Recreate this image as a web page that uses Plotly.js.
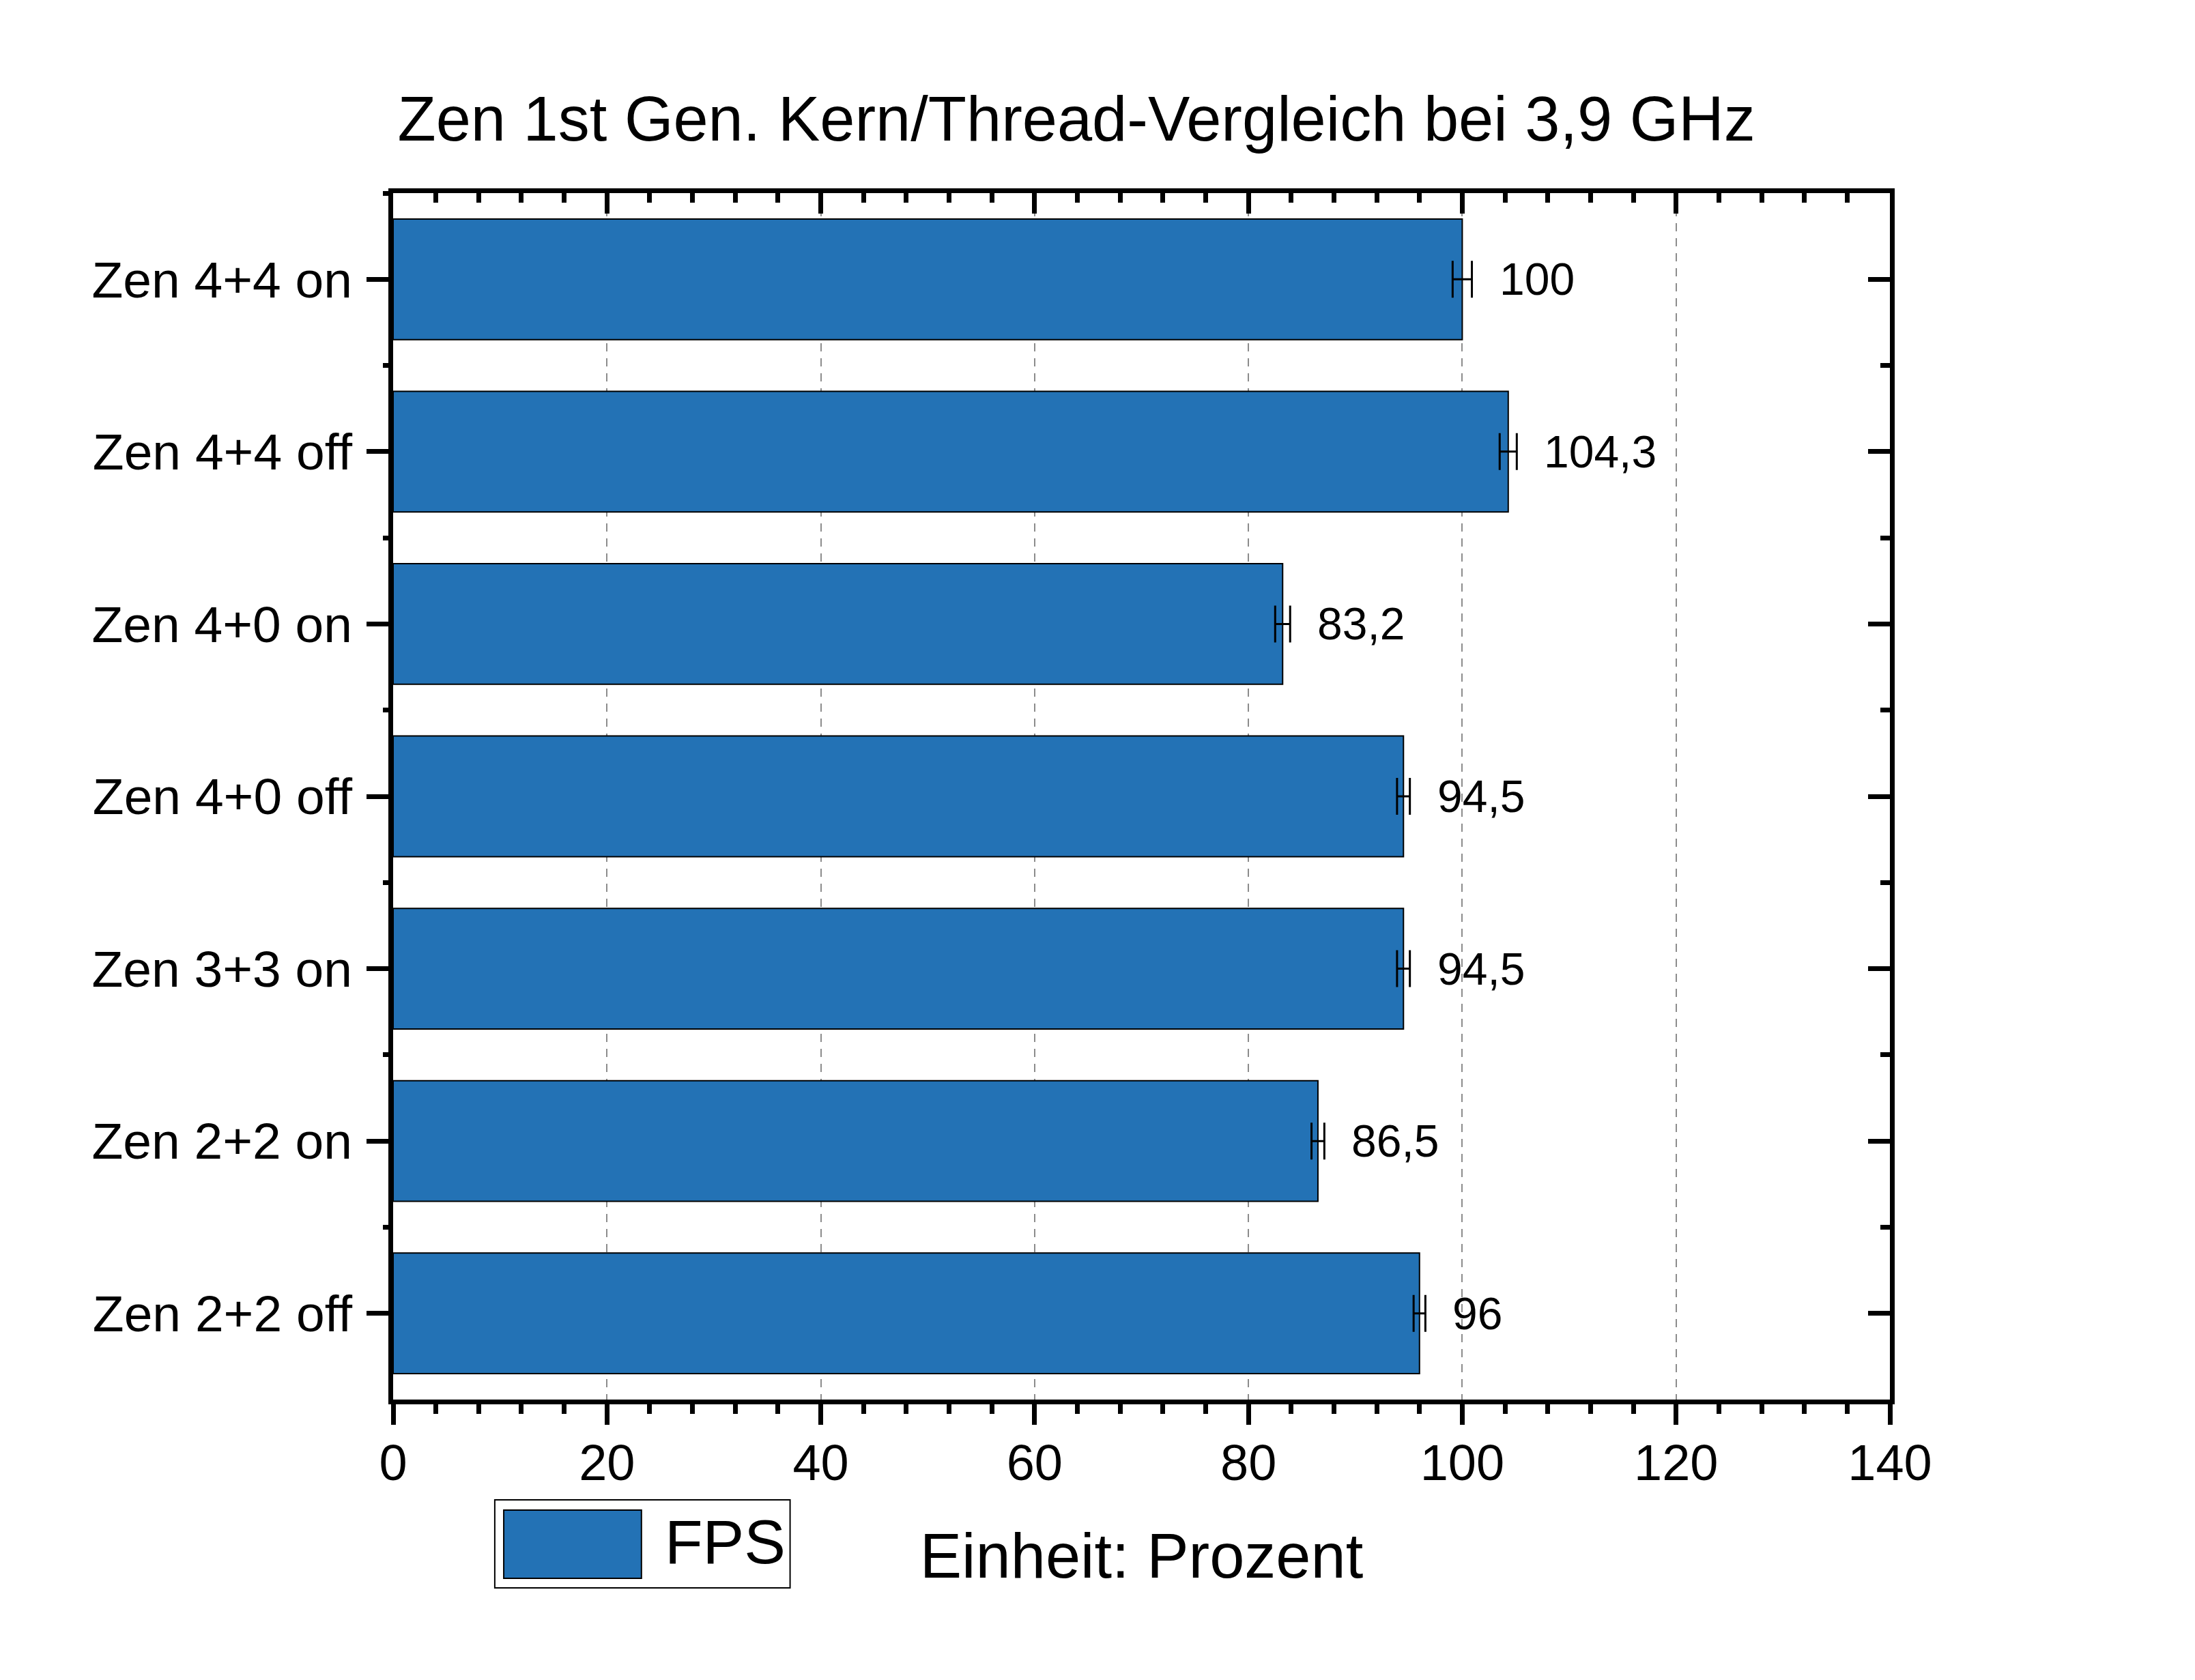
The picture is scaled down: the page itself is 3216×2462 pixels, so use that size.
<!DOCTYPE html>
<html>
<head>
<meta charset="utf-8">
<script src="https://cdn.plot.ly/plotly-3.0.1.min.js"></script>
<style>
  html, body { margin: 0; padding: 0; background: #fff; }
  #chart { width: 3216px; height: 2462px; }
</style>
</head>
<body>
<div id="chart"></div>
<script>
// --- data ---
const categories = ['Zen 4+4 on', 'Zen 4+4 off', 'Zen 4+0 on', 'Zen 4+0 off',
                    'Zen 3+3 on', 'Zen 2+2 on', 'Zen 2+2 off'];
const fps = [100, 104.3, 83.2, 94.5, 94.5, 86.5, 96];
const fpsErr = [0.9, 0.8, 0.7, 0.6, 0.6, 0.6, 0.55];
const seriesName = 'FPS';
const chartTitle = 'Zen 1st Gen. Kern/Thread-Vergleich bei 3,9 GHz';
const xTitle = 'Einheit: Prozent';

const barColor = '#2372b5';
const font = 'Liberation Sans, Arial, sans-serif';

// --- traces ---
const traces = [{
    type: 'bar',
    orientation: 'h',
    x: fps,
    y: categories,
    width: 0.7,
    name: seriesName,
    marker: { color: barColor, line: { color: 'black', width: 2 } },
    error_x: { type: 'data', array: fpsErr, visible: true, color: 'black', thickness: 3, width: 27 },
    showlegend: false,
    hoverinfo: 'x+y'
}];

// invisible copies so the frame axes (top / right / boundary ticks) get drawn
[['x2', 'y'], ['x', 'y2'], ['x', 'y3'], ['x', 'y4']].forEach(([xa, ya]) => {
    traces.push({
        type: 'scatter', mode: 'markers',
        x: fps, y: categories,
        xaxis: xa, yaxis: ya,
        marker: { opacity: 0 },
        hoverinfo: 'skip', showlegend: false
    });
});

// value labels right of the error bars, German decimal comma
const annotations = categories.map((c, i) => ({
    x: fps[i] + fpsErr[i],
    y: c,
    xref: 'x', yref: 'y',
    text: String(fps[i]).replace('.', ','),
    showarrow: false,
    xanchor: 'left',
    xshift: 38,
    font: { family: font, size: 66, color: 'black' }
}));

// hand-made legend (big swatch like the original)
annotations.push({
    x: 0.1805, y: -0.1182, xref: 'paper', yref: 'paper',
    text: seriesName, showarrow: false, xanchor: 'left', yanchor: 'middle',
    font: { family: font, size: 91, color: 'black' }
});

const shapes = [
    { type: 'rect', xref: 'paper', yref: 'paper', x0: 0.0679, x1: 0.2652, y0: -0.0831, y1: -0.1561,
      line: { color: 'black', width: 2 }, fillcolor: 'white' },
    { type: 'rect', xref: 'paper', yref: 'paper', x0: 0.0739, x1: 0.1659, y0: -0.0916, y1: -0.1482,
      line: { color: 'black', width: 2 }, fillcolor: barColor }
];

const LW = 7;
const TW = 7;
const axLine = { showline: true, linecolor: 'black', linewidth: LW, zeroline: false };
const yRange = [categories.length - 0.5, -0.5];
const catAxis = { type: 'category', categoryorder: 'array', categoryarray: categories, range: yRange };

const layout = {
    width: 3216,
    height: 2462,
    margin: { l: 576, r: 447, t: 283, b: 411 },
    paper_bgcolor: 'white',
    plot_bgcolor: 'white',
    font: { family: font, color: 'black' },
    showlegend: false,
    title: {
        text: chartTitle,
        font: { family: font, size: 92, color: 'black' },
        x: 0.4904, xanchor: 'center',
        y: 0.9293, yanchor: 'middle', yref: 'container'
    },
    xaxis: Object.assign({}, axLine, {
        range: [0, 140],
        dtick: 20,
        ticks: 'outside', ticklen: 30, tickwidth: TW, tickcolor: 'black',
        minor: { dtick: 4, ticks: 'outside', ticklen: 14, tickwidth: TW, tickcolor: 'black', showgrid: false },
        showgrid: true, gridcolor: '#8c8c8c', gridwidth: 2, griddash: '12px,10px',
        tickfont: { family: font, size: 74, color: 'black' },
        ticklabelstandoff: -8,
        title: { text: xTitle, font: { family: font, size: 92, color: 'black' }, standoff: 66 }
    }),
    xaxis2: Object.assign({}, axLine, {
        overlaying: 'x', side: 'top', anchor: 'y',
        range: [0, 140], dtick: 20,
        ticks: 'inside', ticklen: 30, tickwidth: TW, tickcolor: 'black',
        minor: { dtick: 4, ticks: 'inside', ticklen: 14, tickwidth: TW, tickcolor: 'black', showgrid: false },
        showgrid: false, showticklabels: false
    }),
    yaxis: Object.assign({}, axLine, catAxis, {
        ticks: 'outside', ticklen: 32, tickwidth: TW, tickcolor: 'black',
        showgrid: false,
        tickfont: { family: font, size: 75, color: 'black' },
        ticklabelstandoff: 6
    }),
    // right frame, long inward ticks at the categories
    yaxis2: Object.assign({}, axLine, catAxis, {
        overlaying: 'y', side: 'right', anchor: 'x',
        ticks: 'inside', ticklen: 32, tickwidth: TW, tickcolor: 'black',
        showgrid: false, showticklabels: false
    }),
    // short outward ticks between categories, left
    yaxis3: Object.assign({}, catAxis, {
        overlaying: 'y', side: 'left', anchor: 'x', tickson: 'boundaries',
        ticks: 'outside', ticklen: 14, tickwidth: TW, tickcolor: 'black',
        showline: false, showgrid: false, zeroline: false, showticklabels: false
    }),
    // short inward ticks between categories, right
    yaxis4: Object.assign({}, catAxis, {
        overlaying: 'y', side: 'right', anchor: 'x', tickson: 'boundaries',
        ticks: 'inside', ticklen: 14, tickwidth: TW, tickcolor: 'black',
        showline: false, showgrid: false, zeroline: false, showticklabels: false
    }),
    annotations: annotations,
    shapes: shapes
};

Plotly.newPlot('chart', traces, layout, { staticPlot: true });
</script>
</body>
</html>
